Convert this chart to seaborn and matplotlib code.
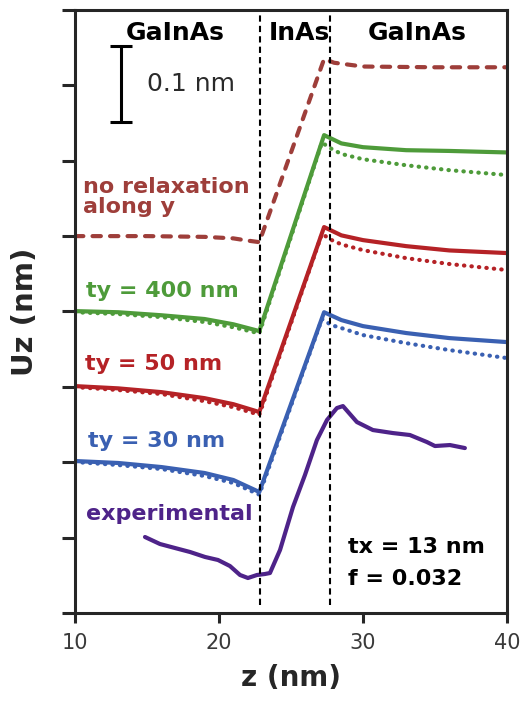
import numpy as np
import pandas as pd
import matplotlib
matplotlib.use("Agg")
import matplotlib.pyplot as plt
import seaborn as sns

# ---------------- data ----------------
z_sim = [10, 13, 16, 19, 21, 22.8, 27.3, 28.5, 30, 33, 36, 40]
z_dot = [10, 13, 16, 19, 21, 22.8, 27.15, 27.8, 28.5, 30, 33, 36, 40]

norelax_z = [10, 15, 19, 21, 22.0, 22.8, 27.3, 28.0, 30, 35, 40]
norelax_uz = [0.500, 0.500, 0.499, 0.497, 0.494, 0.492, 0.735, 0.730, 0.725, 0.724, 0.724]

ty400_solid = [0.4005, 0.399, 0.395, 0.390, 0.383, 0.374, 0.634, 0.623, 0.618, 0.614, 0.613, 0.611]
ty400_dot = [0.399, 0.3966, 0.3926, 0.386, 0.379, 0.371, 0.624, 0.616, 0.609, 0.602, 0.594, 0.5875, 0.581]

ty50_solid = [0.301, 0.298, 0.293, 0.285, 0.277, 0.2666, 0.512, 0.501, 0.4947, 0.4867, 0.481, 0.4775]
ty50_dot = [0.2997, 0.2958, 0.2905, 0.281, 0.273, 0.263, 0.503, 0.495, 0.489, 0.4814, 0.4708, 0.463, 0.455]

ty30_solid = [0.2016, 0.199, 0.1936, 0.1857, 0.1764, 0.1605, 0.399, 0.3886, 0.3806, 0.3714, 0.3647, 0.3594]
ty30_dot = [0.2003, 0.1963, 0.191, 0.1817, 0.1724, 0.157, 0.390, 0.382, 0.378, 0.3687, 0.358, 0.3488, 0.3382]

exp_z = [14.86, 15.9, 16.94, 17.99, 19.03, 19.93, 20.76, 21.46, 22.01, 22.64, 23.19, 23.54,
         24.24, 25.14, 25.97, 26.8, 27.5, 28.19, 28.61, 29.58, 30.69, 32.08, 33.26, 34.44,
         35.0, 36.04, 37.08]
exp_uz = [0.1008, 0.0915, 0.0862, 0.0809, 0.0743, 0.0703, 0.0623, 0.0504, 0.0464, 0.0504, 0.0517, 0.053,
          0.0836, 0.1406, 0.183, 0.2294, 0.256, 0.2719, 0.2745, 0.2533, 0.2427, 0.2387, 0.2361, 0.2268,
          0.2215, 0.2228, 0.2188]

interfaces = [22.85, 27.7]
region_labels = ["GaInAs", "InAs", "GaInAs"]
x_ticks = [10, 20, 30, 40]
y_ticks = [0.0, 0.1, 0.2, 0.3, 0.4, 0.5, 0.6, 0.7, 0.8]

BROWN = "#9E3E3A"
GREEN = "#4E9B3A"
RED = "#B52226"
BLUE = "#3A60B2"
PURPLE = "#4E2389"

# ---------------- figure ----------------
sns.set_style("ticks")
plt.rcParams["font.family"] = ["DejaVu Sans"]

fig = plt.figure(figsize=(5.21, 7.04), dpi=100)
ax = fig.add_axes([0.144, 0.1293, 0.829, 0.8565])

LW = 3.0
DOT = (0, (0.1, 1.7))

sns.lineplot(x=norelax_z, y=norelax_uz, ax=ax, color=BROWN, lw=LW, sort=False,
             linestyle=(0, (2.0, 2.2)), dash_capstyle="round")

for solid, dot, col in [(ty400_solid, ty400_dot, GREEN),
                        (ty50_solid, ty50_dot, RED),
                        (ty30_solid, ty30_dot, BLUE)]:
    sns.lineplot(x=z_dot, y=dot, ax=ax, color=col, lw=LW, sort=False,
                 linestyle=DOT, dash_capstyle="round")
    sns.lineplot(x=z_sim, y=solid, ax=ax, color=col, lw=LW, sort=False,
                 solid_capstyle="round")

sns.lineplot(x=exp_z, y=exp_uz, ax=ax, color=PURPLE, lw=LW, sort=False,
             solid_capstyle="round", solid_joinstyle="round")

for xi in interfaces:
    ax.plot([xi, xi], [0.011, 0.8], color="black", lw=1.5, ls=(0, (3, 2)))

# scale bar
ax.errorbar([13.2], [0.702], yerr=[0.05], color="black", capsize=8, capthick=2.2,
            elinewidth=2.2, fmt="none")
ax.text(15.0, 0.702, "0.1 nm", fontsize=18, color="#2a2a2a", ha="left", va="center")

# region labels
for xpos, lab in zip([16.94, 25.56, 33.8], region_labels):
    ax.text(xpos, 0.769, lab, fontsize=18, fontweight="bold", ha="center", va="center",
            color="black")

tkw = dict(fontsize=16, fontweight="bold", ha="left", va="baseline")
ax.text(10.56, 0.557, "no relaxation", color=BROWN, **tkw)
ax.text(10.56, 0.5305, "along y", color=BROWN, **tkw)
ax.text(10.76, 0.419, "ty = 400 nm", color=GREEN, **tkw)
ax.text(10.7, 0.322, "ty = 50 nm", color=RED, **tkw)
ax.text(10.9, 0.220, "ty = 30 nm", color=BLUE, **tkw)
ax.text(10.76, 0.1233, "experimental", color=PURPLE, **tkw)
ax.text(28.96, 0.0796, "tx = 13 nm", color="black", **tkw)
ax.text(28.96, 0.0371, "f = 0.032", color="black", **tkw)

ax.set_xlim(10, 40)
ax.set_ylim(0, 0.8)
ax.set_xticks(x_ticks)
ax.set_xticklabels([str(t) for t in x_ticks])
ax.set_yticks(y_ticks)
ax.set_yticklabels([])

for sp in ax.spines.values():
    sp.set_linewidth(2.2)
    sp.set_visible(True)
ax.tick_params(axis="y", length=9.5, width=2.2, direction="out")
ax.tick_params(axis="x", length=7.5, width=2.2, direction="out", labelsize=15,
               labelcolor="#3a3a3a", pad=7)

ax.set_xlabel("z (nm)", fontsize=20, fontweight="bold", labelpad=8)
ax.set_ylabel("Uz (nm)", fontsize=21, fontweight="bold", labelpad=13)

fig.savefig("out.png", dpi=100, facecolor="white")
